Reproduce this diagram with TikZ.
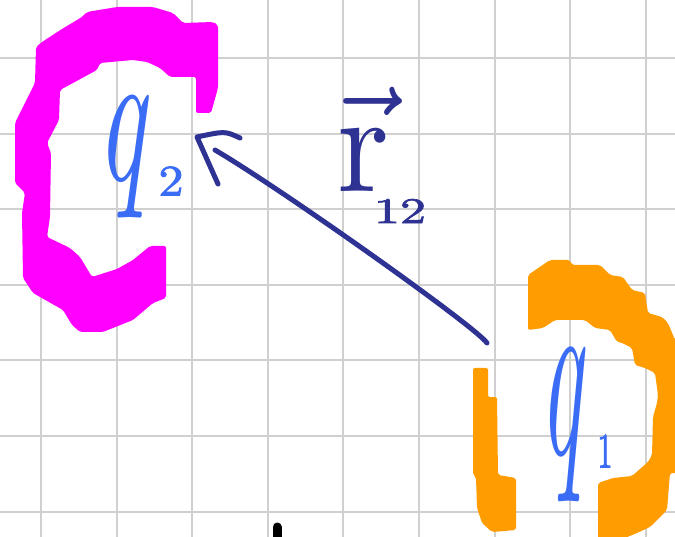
\documentclass[tikz,border=0pt]{standalone}
\usepackage{graphicx}
\usepackage{fontspec}
\newfontfamily\digitfont[FakeBold=2]{Latin Modern Roman}
\definecolor{gridgray}{RGB}{208,208,208}
\definecolor{penmag}{RGB}{255,0,255}
\definecolor{penorange}{RGB}{255,156,0}
\definecolor{penblue}{RGB}{58,108,245}
\definecolor{pennavy}{RGB}{46,50,146}
\begin{document}
\begin{tikzpicture}[x=1pt,y=-1pt,
  gridline/.style={draw=gridgray,line width=2pt},
  blob/.style={rounded corners=2pt},
  pen/.style={draw=pennavy,line width=5pt,line cap=round,line join=round},
  bluetext/.style={text=penblue,inner sep=0pt,outer sep=0pt},
  navytext/.style={text=pennavy,inner sep=0pt,outer sep=0pt}]
\useasboundingbox (0,0) rectangle (675,537);
\fill[white] (0,0) rectangle (675,537);
% grid
\foreach \i in {0,...,8} \draw[gridline] ({41+75.6*\i},-5) -- ({41+75.6*\i},545);
\foreach \j in {0,...,6} \draw[gridline] (-5,{58+75.6*\j}) -- (680,{58+75.6*\j});
% magenta bracket
\fill[penmag,blob] (218,25) -- (218,88) -- (211,113) -- (196,113) -- (196,77) -- (170,77)
  -- (160,68) -- (147,62) -- (133,60) -- (100,63) -- (97,70) -- (60,90) -- (59,120)
  -- (47,143) -- (51,153) -- (50,217) -- (47,237) -- (70,248) -- (80,257) -- (92,277)
  -- (117,269) -- (133,260) -- (150,246) -- (166,246) -- (166,298) -- (153,303)
  -- (133,320) -- (103,332) -- (80,332) -- (72,325) -- (63,310) -- (33,293) -- (23,278)
  -- (22,213) -- (25,193) -- (15,183) -- (15,123) -- (23,107) -- (35,83) -- (36,47)
  -- (42,42) -- (62,29) -- (82,17) -- (87,12) -- (117,7) -- (153,7) -- (173,13)
  -- (183,23) -- (213,22) -- cycle;
% orange bracket, right part
\fill[penorange,blob] (528,275) -- (550,260) -- (570,260) -- (572,265) -- (600,265)
  -- (610,275) -- (623,277) -- (632,290) -- (645,293) -- (648,313) -- (662,317)
  -- (668,323) -- (675,340) -- (685,340) -- (685,473) -- (670,473) -- (667,510)
  -- (650,527) -- (637,533) -- (620,540) -- (598,545) -- (598,483) -- (613,478)
  -- (632,476) -- (648,462) -- (652,455) -- (653,417) -- (657,403) -- (658,395)
  -- (655,373) -- (645,368) -- (635,365) -- (632,348) -- (620,342) -- (617,342)
  -- (610,330) -- (595,328) -- (585,320) -- (555,320) -- (543,328) -- (528,330) -- cycle;
% orange bracket, left part
\fill[penorange,blob] (473,368) -- (488,368) -- (488,397) -- (497,397) -- (498,475)
  -- (516,478) -- (516,530) -- (492,532) -- (482,523) -- (477,508) -- (476,477)
  -- (473,475) -- cycle;
% charges
\node[bluetext,anchor=north west] (q2) at (97,95) {\resizebox*{48pt}{123pt}{\itshape q}};
\node[bluetext] (q2sub) at (171,181) {\resizebox*{25pt}{29pt}{\digitfont 2}};
\node[bluetext,anchor=north west] (q1) at (540,347) {\resizebox*{42pt}{155pt}{\itshape q}};
\node[bluetext] (q1sub) at (605,451) {\resizebox*{15pt}{33pt}{\digitfont 1}};
% vector label
\node[navytext,anchor=north west] (r) at (337,87) {\resizebox*{52pt}{104pt}{$\vec{\hbox{r}}$}};
\node[navytext] (rsub) at (400,211) {\resizebox*{52pt}{24pt}{\digitfont 12}};
% arrow from q1 to q2
\coordinate (arrowstart) at (487,343);
\coordinate (arrowend) at (215,150);
\coordinate (tip) at (197,137);
\coordinate (barbA) at (240,138);
\coordinate (barbB) at (218,184);
\coordinate (barbC) at (225,131);
\coordinate (c1) at (475,326);
\coordinate (c2) at (280,188);
\draw[pen] (arrowstart) .. controls (c1) and (c2) .. (arrowend);
\draw[pen] (barbA) .. controls (barbC) .. (tip) -- (barbB);
% black mark at the bottom
\coordinate (markA) at (277,527);
\coordinate (markB) at (277,548);
\draw[line width=9pt,line cap=round] (markA) -- (markB);
\end{tikzpicture}
\end{document}
